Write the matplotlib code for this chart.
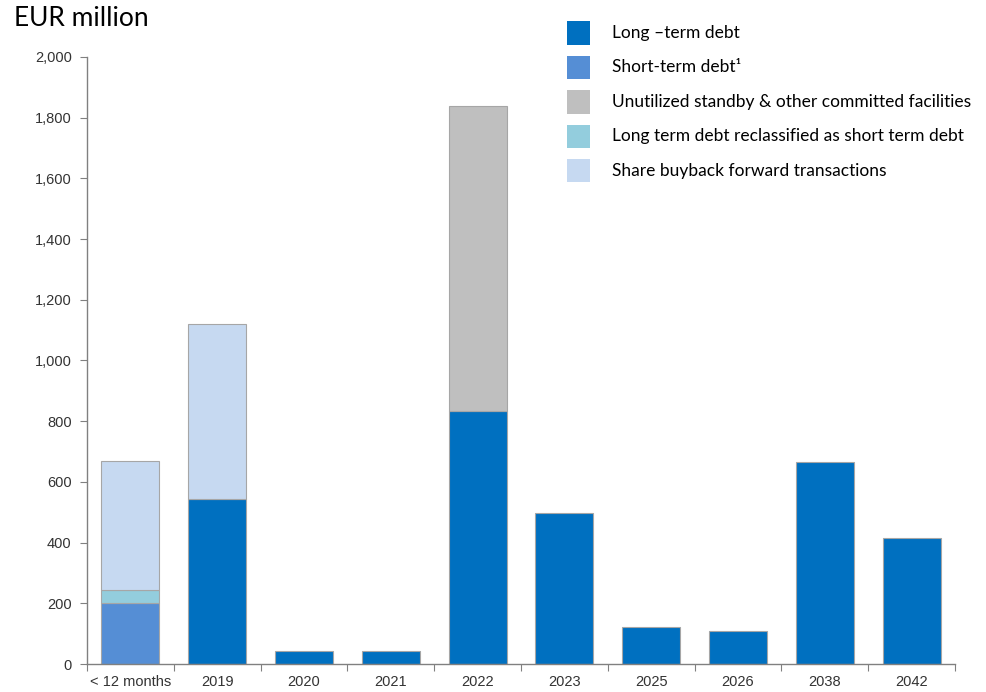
import numpy as np
import matplotlib
matplotlib.use("Agg")
import matplotlib.pyplot as plt
from matplotlib.patches import Rectangle

# 数据
categories = ["< 12 months", "2019", "2020", "2021", "2022", "2023", "2025", "2026", "2038", "2042"]
long_term = [0, 544, 43, 43, 834, 498, 122, 110, 666, 415]
short_term = [200, 0, 0, 0, 0, 0, 0, 0, 0, 0]
standby = [0, 0, 0, 0, 1005, 0, 0, 0, 0, 0]
reclassified = [44, 0, 0, 0, 0, 0, 0, 0, 0, 0]
buyback = [425, 576, 0, 0, 0, 0, 0, 0, 0, 0]

series = [
    ("Long \u2013term debt", long_term, "#0070C0"),
    ("Short-term debt\u00b9", short_term, "#558ED5"),
    ("Unutilized standby & other committed facilities", standby, "#BFBFBF"),
    ("Long term debt reclassified as short term debt", reclassified, "#93CDDD"),
    ("Share buyback forward transactions", buyback, "#C6D9F1"),
]
# 堆叠顺序（自下而上）
stack_order = [1, 0, 3, 2, 4]

plt.rcParams["font.family"] = ["Liberation Sans", "DejaVu Sans"]

W, H = 986, 692
fig = plt.figure(figsize=(W / 100, H / 100), dpi=100)
ax = fig.add_axes([87 / W, (H - 664) / H, 868 / W, 607 / H])

x = np.arange(len(categories))
bottom = np.zeros(len(categories))
for i in stack_order:
    name, vals, color = series[i]
    vals = np.array(vals, dtype=float)
    mask = vals > 0
    ax.bar(x[mask], vals[mask], bottom=bottom[mask], width=0.67, color=color,
           edgecolor="#A6A6A6", linewidth=0.8, zorder=2)
    bottom += vals

ax.set_xlim(-0.5, len(categories) - 0.5)
ax.set_ylim(0, 2000)
ax.set_yticks(np.arange(0, 2001, 200))
ax.set_yticklabels([f"{v:,}" for v in range(0, 2001, 200)])

ax.set_xticks(np.arange(-0.5, len(categories), 1.0))
ax.set_xticklabels([])
ax.set_xticks(x, minor=True)
ax.set_xticklabels(categories, minor=True)
ax.tick_params(axis="x", which="major", length=5, color="#808080", direction="out")
ax.tick_params(axis="x", which="minor", length=0, pad=8, labelsize=10.5, labelcolor="#333333")
ax.tick_params(axis="y", length=5, color="#808080", pad=6, labelsize=10.5, labelcolor="#333333")

for s in ["top", "right"]:
    ax.spines[s].set_visible(False)
for s in ["left", "bottom"]:
    ax.spines[s].set_color("#808080")
    ax.spines[s].set_linewidth(1.0)

fig.text(14 / W, 1 - 19 / H, "EUR million", fontsize=19, fontfamily="Lato",
         ha="left", va="center", color="#000000")

# 图例
for k, (name, vals, color) in enumerate(series):
    yc = 33 + k * 34.5
    fig.add_artist(Rectangle((567 / W, 1 - (yc + 11.5) / H), 23 / W, 23 / H,
                             transform=fig.transFigure, facecolor=color, edgecolor="none"))
    fig.text(612 / W, 1 - yc / H, name, fontsize=12.5, fontfamily="Lato",
             ha="left", va="center", color="#000000")

fig.savefig("out.png", dpi=100)
